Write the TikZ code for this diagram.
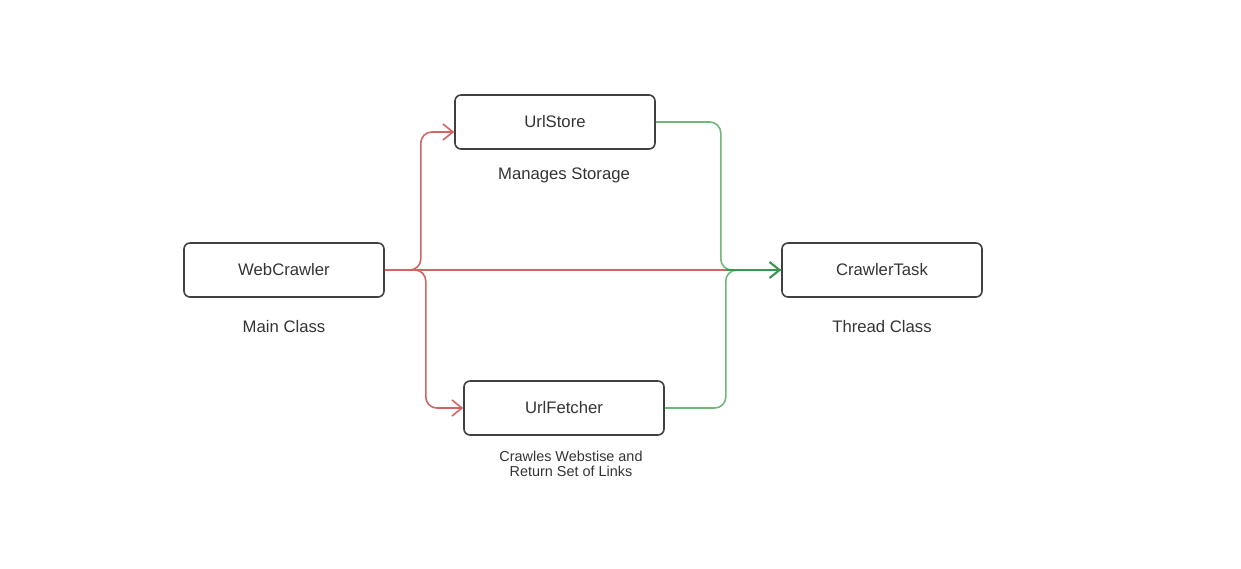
\documentclass[tikz,border=0pt]{standalone}
\usepackage{fontspec}
\setmainfont{Liberation Sans}
\usepackage{tikz}
\usetikzlibrary{arrows.meta,positioning,calc}

\definecolor{boxGray}{RGB}{64,64,64}
\definecolor{textGray}{RGB}{52,52,52}
\definecolor{linkRed}{RGB}{210,100,100}
\definecolor{linkGreen}{RGB}{110,185,120}
\definecolor{arrowGreen}{RGB}{60,150,80}

\begin{document}
\begin{tikzpicture}[>={Straight Barb[length=2mm,width=3.2mm]},
node distance=4cm, semithick]
\tikzset{
	classBox/.style={
		rectangle,
		rounded corners=1.2mm,
		minimum width=4cm,
		minimum height=1.08cm,
		draw=boxGray,
		line width=0.9pt,
		text=textGray,
		font=\fontsize{9.5}{11}\selectfont
	},
	noteText/.style={
		text=textGray,
		font=\fontsize{9.5}{11}\selectfont
	},
	redLink/.style={draw=linkRed, line width=0.9pt, rounded corners=2.2mm},
	greenLink/.style={draw=linkGreen, line width=0.9pt, rounded corners=2.2mm},
	greenArrow/.style={draw=arrowGreen, line width=1.2pt}
}

\useasboundingbox (-5.68,-5.96) rectangle (19.14,5.4);

\node[classBox,
label={[noteText, label distance=0.33cm]below:Main Class}]
(WC) at (0,0) {WebCrawler};

\node[classBox,
label={[noteText, label distance=0.33cm]below:Thread Class}]
(CT) [node distance=11.96cm, right of=WC] {CrawlerTask};

\node[classBox,
label={[noteText, label distance=0.23cm, xshift=0.18cm]below:Manages Storage}]
(US) [node distance=2.96cm, above of=WC, xshift=5.42cm] {UrlStore};

\node[classBox,
label={[noteText, align=center, font=\fontsize{8.2}{8.6}\selectfont,
label distance=0.18cm, xshift=0.14cm]below:{Crawles Webstise and\\Return Set of Links}}]
(UF) [node distance=2.76cm, below of=WC, xshift=5.6cm] {UrlFetcher};

%--------------------------- red links ------------
\draw[redLink, ->] (WC.east) -- ++(0.72,0) |- ([yshift=-0.2cm]US.west);
\draw[redLink, ->] (WC.east) -- ++(0.82,0) |- (UF.west);
\coordinate (JN) at ([xshift=-1.1cm]CT.west);
\draw[redLink] (WC.east) -- (JN);

%--------------------------- green links ------------
\draw[greenLink] (US.east) -- ++(1.3,0) |- (CT.west);
\draw[greenLink] (UF.east) -- ++(1.22,0) |- (CT.west);
\draw[greenArrow, ->] (JN) -- (CT.west);

\end{tikzpicture}
\end{document}
